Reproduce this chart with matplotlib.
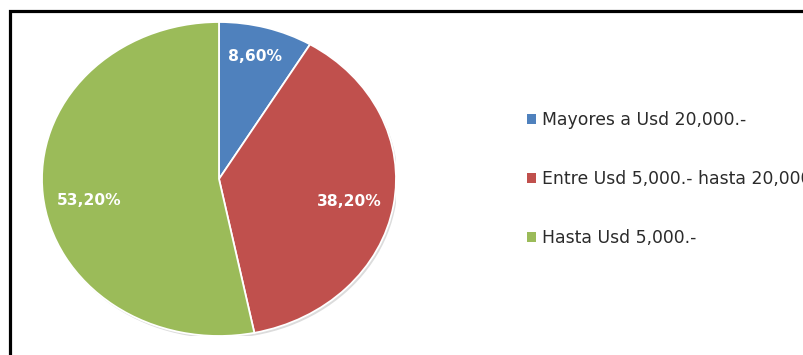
import matplotlib.pyplot as plt
import matplotlib.patches as mpatches
import numpy as np

# distribution of amounts (percent)
categories = ['Mayores a Usd 20,000.-',
              'Entre Usd 5,000.- hasta 20,000.-',
              'Hasta Usd 5,000.-']
shares = [8.6, 38.2, 53.2]
colors = ['#4F81BD', '#C0504D', '#9BBB59']

W, H = 804, 355
fig = plt.figure(figsize=(W / 100, H / 100), dpi=100)
fig.patch.set_facecolor('white')

# pie drawn stretched (wider than tall), so axes aspect stays auto
cx, cy, rx, ry = 219, 179, 177, 157
ax = fig.add_axes([(cx - rx) / W, (H - cy - ry) / H, 2 * rx / W, 2 * ry / H])

# soft shadow under the pie
shadow = mpatches.Ellipse((0.01, -0.015), 2.0, 2.0, facecolor='#dcdcdc',
                          edgecolor='none', zorder=0)
ax.add_patch(shadow)

def pct_label(p):
    return f'{p:.2f}'.replace('.', ',') + '%'

wedges, texts, autotexts = ax.pie(
    shares, colors=colors, startangle=90, counterclock=False,
    autopct=pct_label, pctdistance=0.75,
    wedgeprops=dict(edgecolor='white', linewidth=1.3),
    textprops=dict(color='white', fontsize=11.2, fontweight='bold',
                   family='DejaVu Sans'))

# label nudges in pixels (right, down)
nudges = [(-2, -1), (-1, 3), (2, 10)]
for w, t, (dx, dy) in zip(wedges, autotexts, nudges):
    ang = np.deg2rad((w.theta1 + w.theta2) / 2)
    r = 0.8 if t is autotexts[0] else 0.75
    t.set_position((r * np.cos(ang) + dx / rx, r * np.sin(ang) - dy / ry))

for w in wedges:
    w.set_clip_on(False)
    w.set_zorder(2)

ax.set_aspect('auto')
ax.set_xlim(-1, 1)
ax.set_ylim(-1, 1)
ax.axis('off')

handles = [mpatches.Patch(facecolor=c, edgecolor='none') for c in colors]
fs = 12.4
leg = fig.legend(handles, categories, loc='center left',
                 bbox_to_anchor=(527 / W, 1 - 179 / H),
                 frameon=False, fontsize=fs, borderpad=0, borderaxespad=0,
                 handlelength=0.52, handleheight=0.52, handletextpad=0.35,
                 labelspacing=2.39)
for t in leg.get_texts():
    t.set_color('#2b2b2b')

# black frame around the chart, running off the right and bottom
frame = mpatches.Rectangle((9.8 / W, -0.2), 1.2, (H - 10.5) / H + 0.2,
                           transform=fig.transFigure, fill=False,
                           edgecolor='black', linewidth=2.3, clip_on=False)
fig.patches.append(frame)

fig.savefig('out.png', dpi=100)
